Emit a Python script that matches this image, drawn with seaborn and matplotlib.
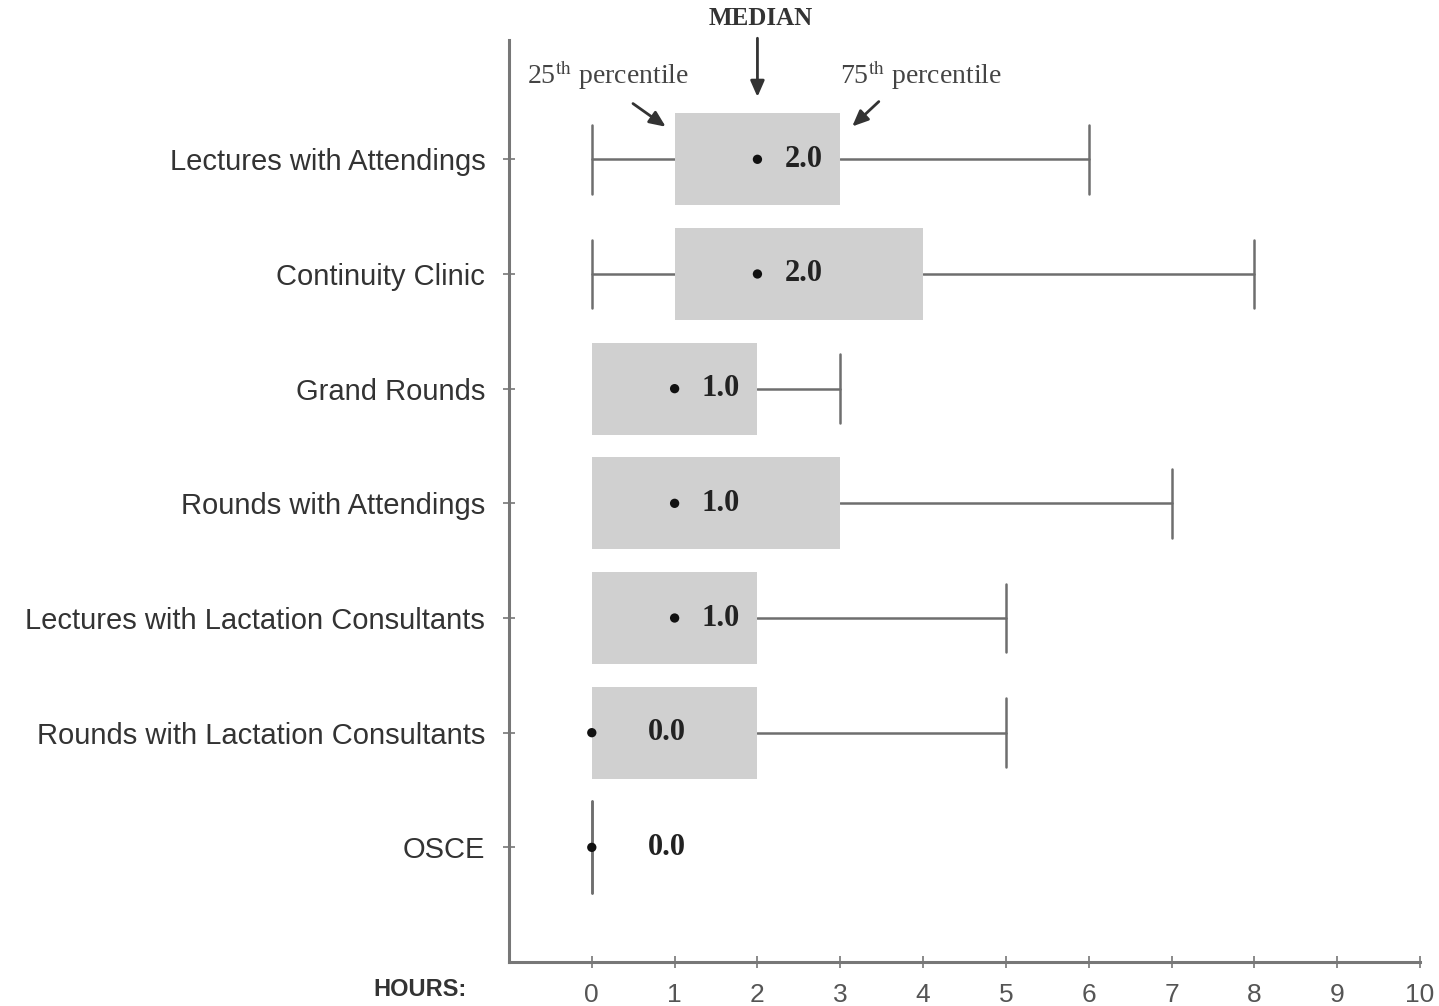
import numpy as np
import pandas as pd
import seaborn as sns
import matplotlib.pyplot as plt

# Hours per activity (min, quartiles, median, max)
activities = [
    "Lectures with Attendings",
    "Continuity Clinic",
    "Grand Rounds",
    "Rounds with Attendings",
    "Lectures with Lactation Consultants",
    "Rounds with Lactation Consultants",
    "OSCE",
]
whisker_low = [0, 0, 0, 0, 0, 0, 0]
q1 = [1, 1, 0, 0, 0, 0, 0]
median = [2.0, 2.0, 1.0, 1.0, 1.0, 0.0, 0.0]
q3 = [3, 4, 2, 3, 2, 2, 0]
whisker_high = [6, 8, 3, 7, 5, 5, 0]
hour_ticks = list(range(0, 11))

sns.set_theme(style="white")
plt.rcParams["font.family"] = ["Liberation Sans", "DejaVu Sans"]
plt.rcParams["mathtext.fontset"] = "stix"

fig = plt.figure(figsize=(14.39, 10.06), dpi=100)
ax = fig.add_axes([0.3537, 0.0437, 0.6331, 0.9165])

n = len(activities)
positions = np.arange(n)

# box stats straight from the lists above
stats = [
    dict(label=a, whislo=lo, q1=b1, med=m, q3=b3, whishi=hi, fliers=[])
    for a, lo, b1, m, b3, hi in zip(activities, whisker_low, q1, median, q3, whisker_high)
]
cap_w = [0.8 if lo == hi else 0.6 for lo, hi in zip(whisker_low, whisker_high)]
parts = ax.bxp(
    stats,
    positions=positions,
    widths=0.8,
    orientation="horizontal",
    patch_artist=True,
    showfliers=False,
    capwidths=cap_w,
    boxprops=dict(facecolor="#d0d0d0", edgecolor="#d0d0d0", linewidth=0, zorder=3),
    whiskerprops=dict(color="#6e6e6e", linewidth=1.8),
    capprops=dict(color="#6e6e6e", linewidth=1.8),
    medianprops=dict(linewidth=0),
)
# no lower cap when the box already starts at the minimum
for i, (lo, b1, b3) in enumerate(zip(whisker_low, q1, q3)):
    if lo == b1 and b1 != b3:
        parts["caps"][2 * i].set_visible(False)

# median dots
df = pd.DataFrame({"activity": activities, "median": median, "pos": positions})
sns.scatterplot(data=df, x="median", y="pos", color="#111111", s=45,
                edgecolor="none", zorder=5, legend=False, ax=ax)

for m, p in zip(median, positions):
    ax.text(m + (0.33 if m > 0 else 0.68), p, f"{m:.1f}",
            fontfamily="Liberation Serif", fontweight="bold", fontsize=22,
            color="#222222", va="center", ha="left", zorder=6)

ax.set_xlim(-1, 10)
ax.set_ylim(7.0, -1.04)
ax.set_yticks(positions, activities)
ax.set_xticks(hour_ticks)
ax.set_xlabel("")
ax.set_ylabel("")

ax.tick_params(axis="y", labelsize=21, labelcolor="#333333", direction="inout",
               length=8, width=1.2, color="#777777", pad=13, left=True)
ax.tick_params(axis="x", labelsize=19, labelcolor="#555555", direction="inout",
               length=8, width=1.2, color="#777777", pad=11, bottom=True)

for side in ["top", "right"]:
    ax.spines[side].set_visible(False)
for side in ["left", "bottom"]:
    ax.spines[side].set_color("#777777")
    ax.spines[side].set_linewidth(2.2)

# callouts
arrow = dict(arrowstyle="-|>,head_length=0.8,head_width=0.35", color="#333333", lw=2)
ax.text(2.04, -1.23, "MEDIAN", fontfamily="Liberation Serif", fontweight="bold",
        fontsize=18, color="#333333", ha="center", va="center")
ax.annotate("", xy=(2.0, -0.52), xytext=(2.0, -1.08),
            arrowprops=dict(arrow), annotation_clip=False)
ax.text(0.19, -0.73, "25$^{\\mathrm{th}}$ percentile", fontfamily="Liberation Serif",
        fontsize=20, color="#444444", ha="center", va="center")
ax.annotate("", xy=(0.92, -0.27), xytext=(0.47, -0.50),
            arrowprops=dict(arrow), annotation_clip=False)
ax.text(3.97, -0.73, "75$^{\\mathrm{th}}$ percentile", fontfamily="Liberation Serif",
        fontsize=20, color="#444444", ha="center", va="center")
ax.annotate("", xy=(3.12, -0.27), xytext=(3.49, -0.52),
            arrowprops=dict(arrow), annotation_clip=False)

fig.text(0.292, 0.016, "HOURS:", fontsize=17, fontweight="bold",
         color="#333333", ha="center", va="center")

fig.savefig("out.png", dpi=100)
